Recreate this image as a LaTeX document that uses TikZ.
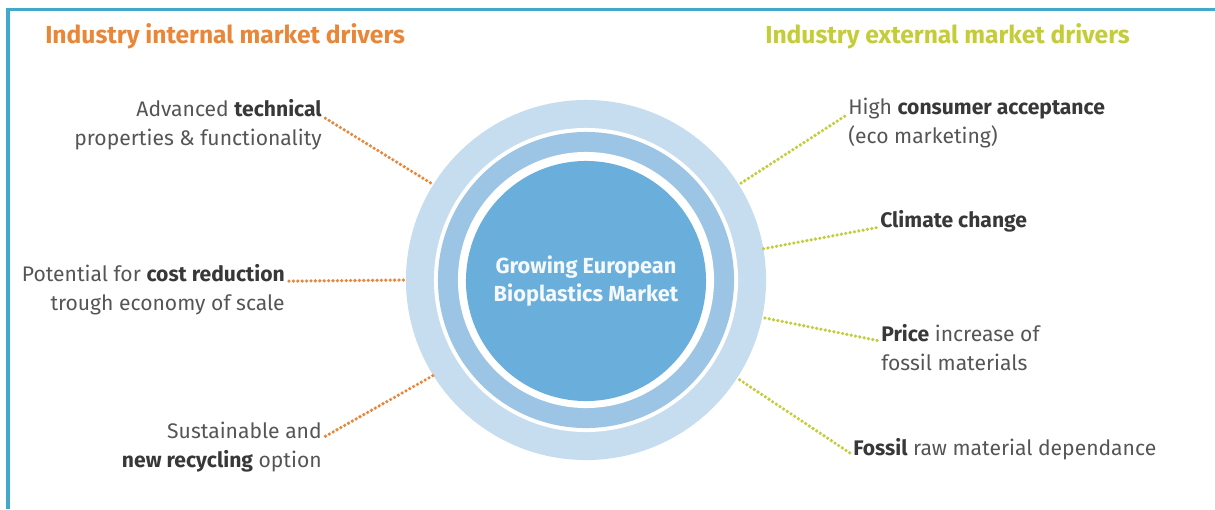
\documentclass[tikz,border=0pt]{standalone}
\usepackage{fontspec}
\setmainfont{Fira Sans}
\definecolor{framecol}{HTML}{41A9C9}
\definecolor{intcol}{HTML}{E8873A}
\definecolor{extcol}{HTML}{C4CC3A}
\definecolor{ringlight}{HTML}{C6DCEF}
\definecolor{ringmid}{HTML}{9CC4E4}
\definecolor{coreblue}{HTML}{6AAEDB}
\definecolor{txtgray}{HTML}{555555}
\newcommand{\hl}[1]{{\bfseries\color{black!78}#1}}
\begin{document}
\begin{tikzpicture}[x=0.025cm, y=-0.025cm,
  label/.style={inner sep=0, text=txtgray, font=\fontsize{15}{20.5}\selectfont},
  lleft/.style={label, align=right, anchor=base east},
  lright/.style={label, align=left, anchor=base west},
  title/.style={inner sep=0, anchor=base west, font=\fontsize{17.5}{20}\selectfont\bfseries},
  intline/.style={intcol, line width=0.09cm, line cap=round, dash pattern=on 0pt off 0.11cm, shorten <=0.1cm},
  extline/.style={extcol, line width=0.09cm, line cap=round, dash pattern=on 0pt off 0.11cm, shorten <=0.1cm}]
\useasboundingbox (0,0) rectangle (1215,509);

% frame
\draw[framecol, line width=0.075cm] (8,509) -- (8,9) -- (1215,9);

% titles
\node[title, text=intcol] (tint) at (45,43) {Industry internal market drivers};
\node[title, text=extcol] (text) at (765,43) {Industry external market drivers};

% rings
\node[circle, fill=ringlight, minimum size=9cm, inner sep=0, outer sep=0] (ring) at (586,280) {};
\fill[white] (ring.center) circle (3.8cm);
\fill[ringmid] (ring.center) circle (3.7cm);
\fill[white] (ring.center) circle (3.2cm);
\node[circle, fill=coreblue, minimum size=6cm, inner sep=0, align=center, text=white!93!coreblue,
  font=\fontsize{15.5}{19.8}\selectfont\bfseries] (core) at (586,281) {Growing European\\Bioplastics Market};

% internal drivers (base = last line)
\node[lleft] (l1) at (322,145) {Advanced \hl{technical}\\properties \& functionality};
\node[lleft] (l2) at (285,310) {Potential for \hl{cost reduction}\\trough economy of scale};
\node[lleft] (l3) at (322,467) {Sustainable and\\\hl{new recycling} option};

% external drivers
\node[lright] (r1) at (848,143) {High \hl{consumer acceptance}\\(eco marketing)};
\node[lright] (r2) at (880,227) {\hl{Climate change}};
\node[lright] (r3) at (881,370) {\hl{Price} increase of\\fossil materials};
\node[lright] (r4) at (853,455) {\hl{Fossil} raw material dependance};

\draw[intline] ([yshift=20.5pt]l1.base east) -- (ring.148);
\draw[intline] ([yshift=20.5pt]l2.base east) -- (ring.180);
\draw[intline] ([yshift=20.5pt]l3.base east) -- (ring.212);
\draw[extline] ([yshift=20.5pt]r1.base west) -- (ring.32);
\draw[extline] (r2.base west) -- (ring.10);
\draw[extline] ([yshift=20.5pt]r3.base west) -- (ring.348);
\draw[extline] (r4.base west) -- (ring.327);
\end{tikzpicture}
\end{document}
